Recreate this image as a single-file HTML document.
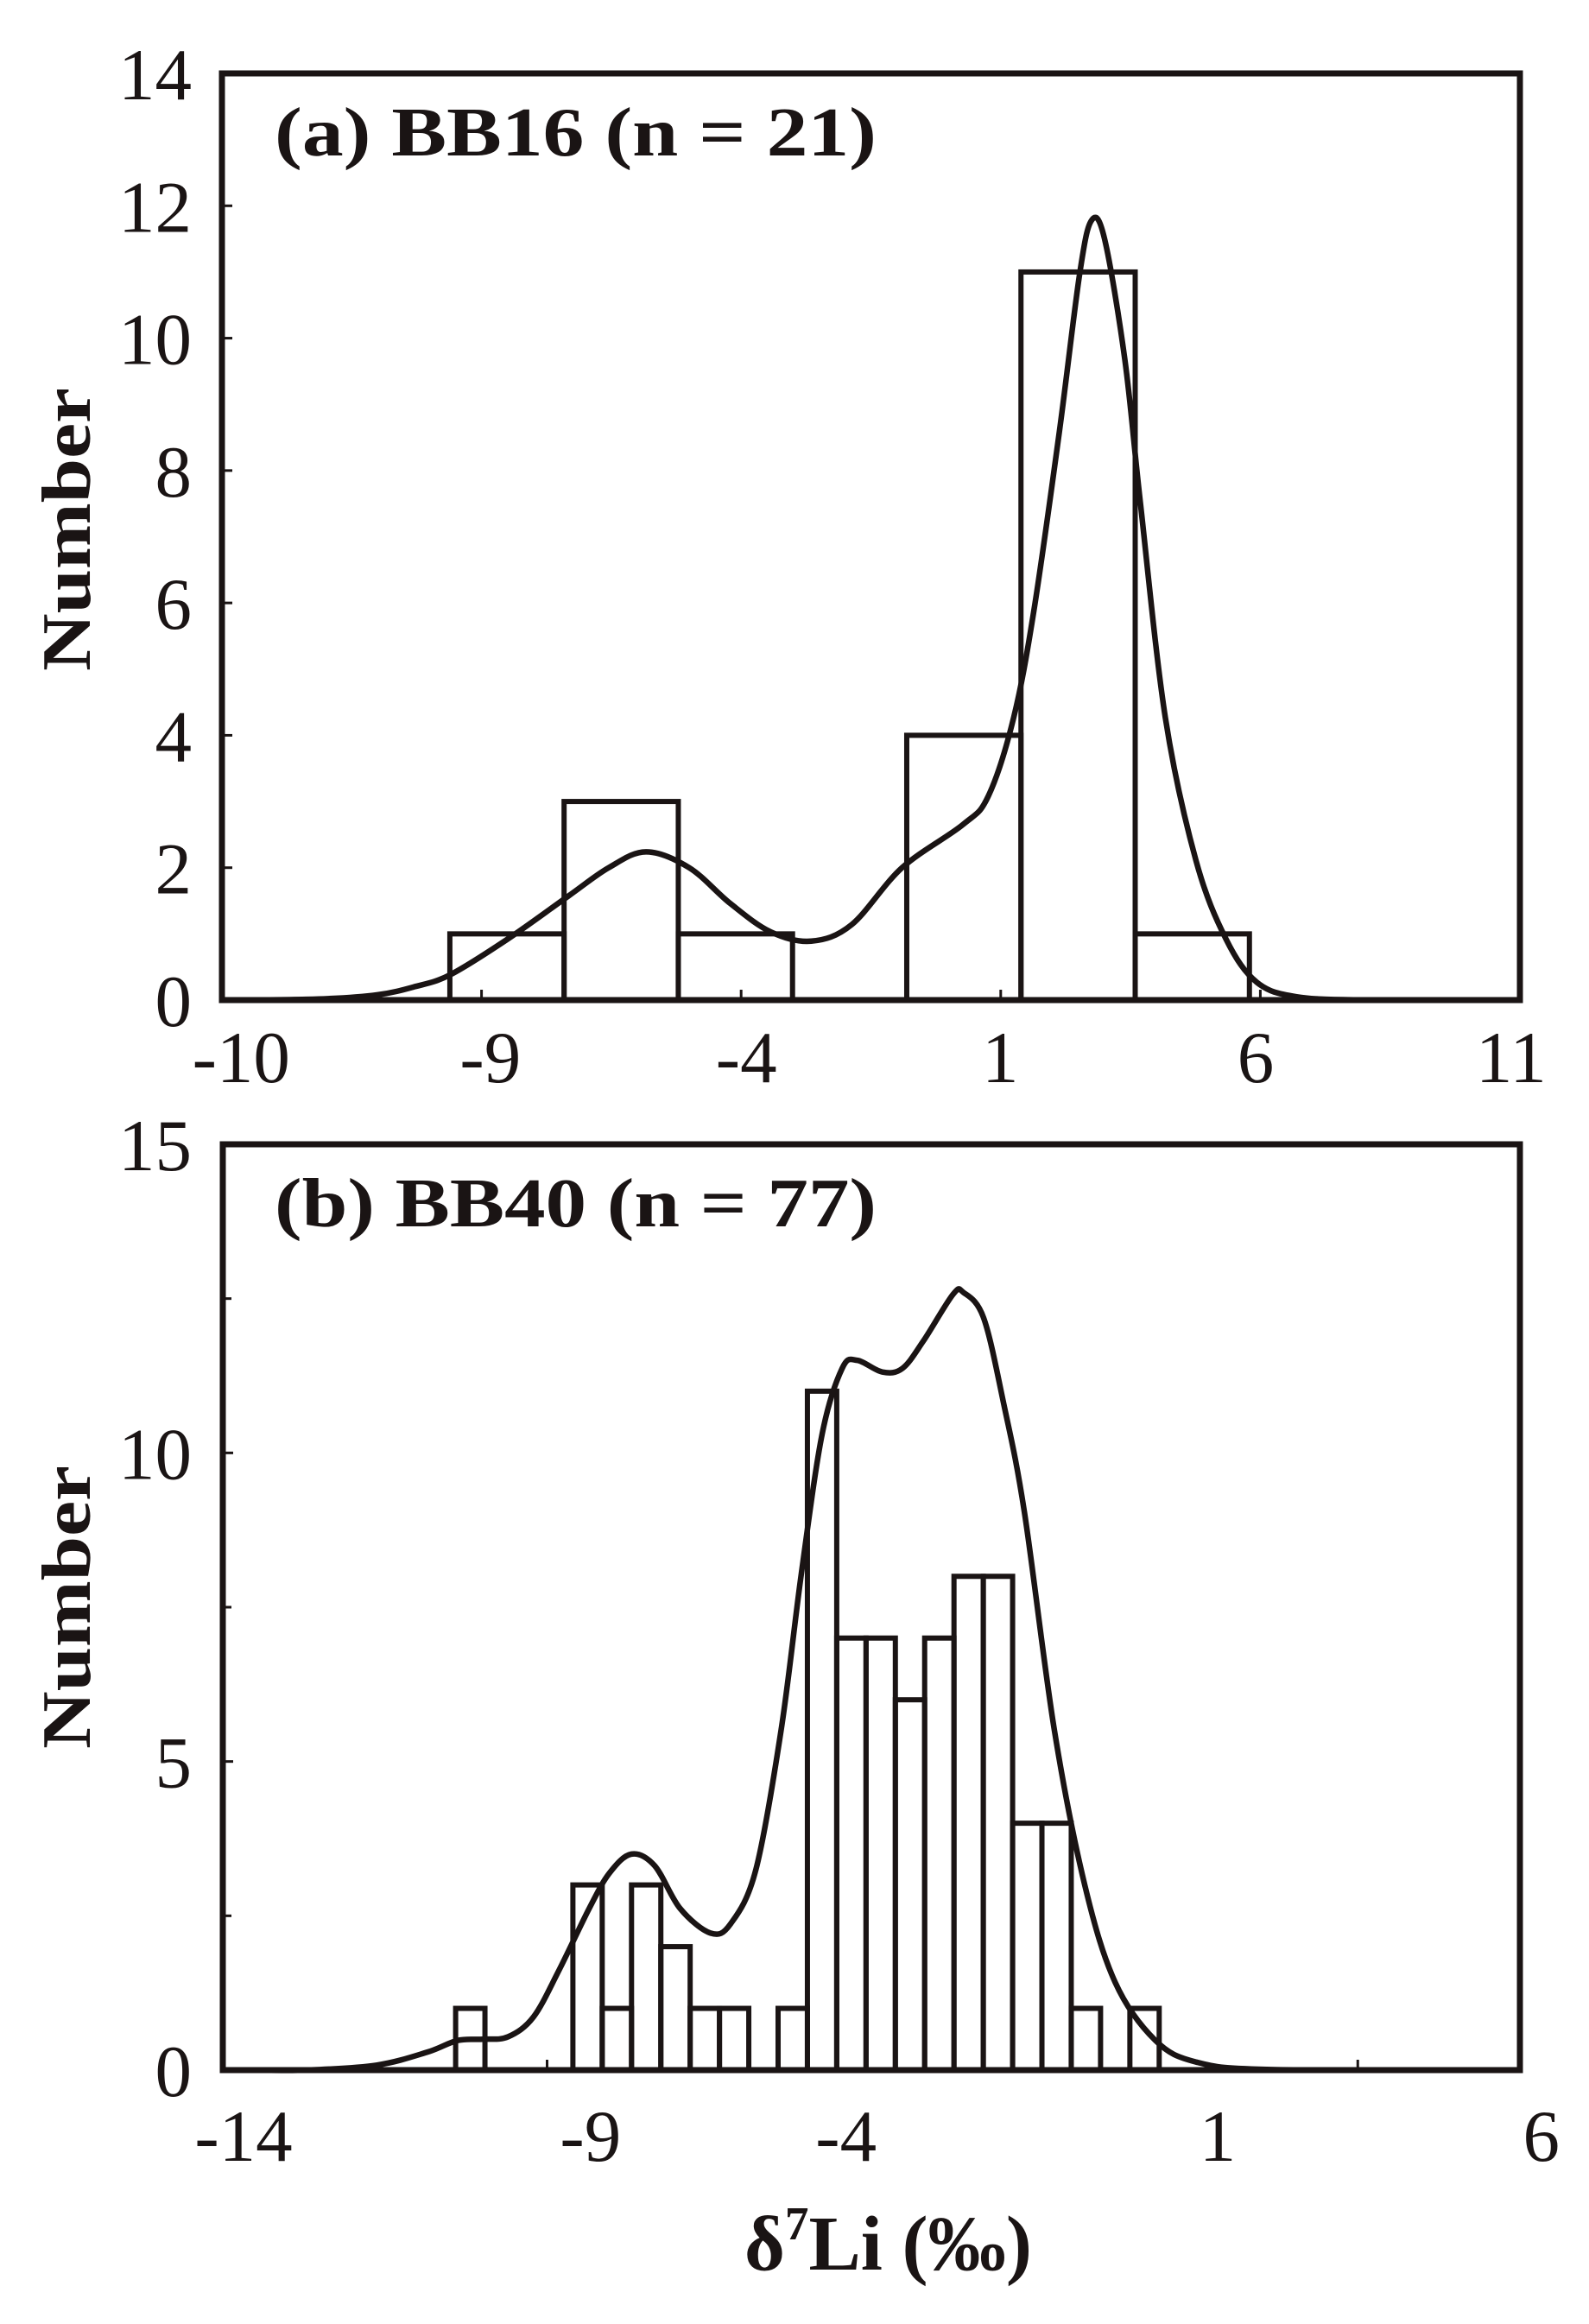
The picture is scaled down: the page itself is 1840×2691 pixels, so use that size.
<!DOCTYPE html>
<html><head><meta charset="utf-8"><style>
html,body{margin:0;padding:0;background:#fff;}
svg{display:block;}
text{font-family:"Liberation Serif","Times New Roman",serif;fill:#1a1414;}
</style></head><body>
<svg id="chart" width="1840" height="2691" viewBox="0 0 1840 2691" xmlns="http://www.w3.org/2000/svg">
<rect x="0" y="0" width="1840" height="2691" fill="#fff"/>
<g id="pa"></g>
<g id="pb"></g>
<text x="862" y="2628" font-size="90" font-weight="bold" textLength="333" lengthAdjust="spacingAndGlyphs">δ<tspan font-size="55" dy="-35">7</tspan><tspan dy="35">Li (‰)</tspan></text>
</svg>
<script>
// Panel A data
const aBinStart = -9.61;
const aBinWidth = 2.2;
const aCounts = [1, 3, 1, 0, 4, 11, 1];
const aCurveX = [-13.5,-12,-11,-10.3,-9.61,-8.5,-7.33,-6.55,-5.83,-5.0,-4.21,-3.43,-2.65,-1.87,-0.9,0.27,0.76,1.25,1.64,2.13,2.52,2.75,3.0,3.39,3.69,4.17,4.76,5.34,5.93,6.7,8.07,10.5];
const aCurveY = [0,0.02,0.08,0.2,0.38,0.92,1.57,2.0,2.24,2.0,1.46,1.03,0.89,1.14,2.0,2.65,3.08,4.27,5.89,8.59,10.97,11.78,11.5,9.68,7.51,4.27,2.11,0.92,0.27,0.05,0,0];
const aYTicks = [0,2,4,6,8,10,12,14];
const aXTickLabels = ["-10","-9","-4","1","6","11"];
const aXLabelAt = [-13.63,-8.83,-3.9,0.99,5.91,10.83];
const aXTickMarks = [-9,-4,1,6];
// Panel B data
const bBinStart = -10.41;
const bBinWidth = 0.452;
const bCounts = [1,0,0,0,3,1,3,2,1,1,0,1,11,7,7,6,7,8,8,4,4,1,0,1];
const bCurveX = [-13.5,-12.7,-11.63,-10.85,-10.38,-9.99,-9.6,-9.21,-8.82,-8.35,-8.04,-7.7,-7.34,-6.95,-6.48,-6.17,-5.78,-5.39,-5.08,-4.76,-4.45,-4.22,-3.83,-3.52,-3.2,-2.74,-2.58,-2.27,-1.96,-1.64,-1.18,-0.71,-0.24,0.38,1.01,2.1,5.5];
const bCurveY = [0,0,0.08,0.29,0.48,0.5,0.54,0.86,1.61,2.62,3.19,3.5,3.31,2.62,2.22,2.37,3.25,5.52,8.04,10.3,11.37,11.5,11.31,11.37,11.81,12.57,12.6,12.19,10.8,9.04,5.52,3.0,1.42,0.48,0.13,0.01,0];
const bYTicks = [0,5,10,15];
const bMinorYTicks = [2.5,7.5,12.5];
const bXTickLabels = ["-14","-9","-4","1","6"];
const bXLabelAt = [-13.68,-8.33,-4.39,1.34,6.33];
const bXTickMarks = [-9,3.5];

const NS = "http://www.w3.org/2000/svg";
function mk(tag, attrs, parent){
  const e = document.createElementNS(NS, tag);
  for (const k in attrs) e.setAttribute(k, attrs[k]);
  parent.appendChild(e);
  return e;
}
function smoothPath(pts){
  let d = "M" + pts[0][0] + "," + pts[0][1];
  for (let i=0;i<pts.length-1;i++){
    const p0 = pts[i-1]||pts[i], p1=pts[i], p2=pts[i+1], p3=pts[i+2]||p2;
    const c1x = p1[0]+(p2[0]-p0[0])/6, c1y = p1[1]+(p2[1]-p0[1])/6;
    const c2x = p2[0]-(p3[0]-p1[0])/6, c2y = p2[1]-(p3[1]-p1[1])/6;
    d += " C"+c1x+","+c1y+" "+c2x+","+c2y+" "+p2[0]+","+p2[1];
  }
  return d;
}
function panel(g, cfg){
  const X = v => cfg.L + (v - cfg.xmin) * (cfg.R - cfg.L) / (cfg.xmax - cfg.xmin);
  const Y = v => cfg.B - v * (cfg.B - cfg.T) / cfg.ymax;
  cfg.counts.forEach((c,i)=>{
    if (c <= 0) return;
    const x0 = X(cfg.binStart + i*cfg.binWidth), x1 = X(cfg.binStart + (i+1)*cfg.binWidth);
    const r = mk("rect", {x:x0, y:Y(c), width:x1-x0, height:Y(0)-Y(c), fill:"none", stroke:"#1a1414", "stroke-width":6}, g);
    
    
  });
  const pts = cfg.cx.map((v,i)=>[X(v), Y(cfg.cy[i])]);
  const p = mk("path", {d:smoothPath(pts), fill:"none", stroke:"#1a1414", "stroke-width":6.5, "stroke-linejoin":"round"}, g);
  
  
  const f = mk("rect", {x:cfg.L, y:cfg.T, width:cfg.R-cfg.L, height:cfg.B-cfg.T, fill:"none", stroke:"#1a1414", "stroke-width":7}, g);
  
  
  cfg.yTicks.forEach(v=>{
    const tk = mk("line", {x1:cfg.L, x2:cfg.L+12, y1:Y(v), y2:Y(v), stroke:"#1a1414", "stroke-width":3}, g);
    
    
    const t = mk("text", {x:222, y:Y(v)+30, "font-size":85, "text-anchor":"end"}, g);
    t.textContent = String(v);
    
    
  });
  (cfg.minorY||[]).forEach(v=>{
    const tk = mk("line", {x1:cfg.L, x2:cfg.L+10, y1:Y(v), y2:Y(v), stroke:"#1a1414", "stroke-width":3}, g);
    
    
  });
  cfg.xTickMarks.forEach(v=>{
    const tk = mk("line", {x1:X(v), x2:X(v), y1:cfg.B, y2:cfg.B-12, stroke:"#1a1414", "stroke-width":3}, g);
    
    
  });
  cfg.xLabels.forEach((s,i)=>{
    const t = mk("text", {x:X(cfg.xLabelAt[i]), y:cfg.xLabelY, "font-size":85, "text-anchor":"middle"}, g);
    t.textContent = s;
    
    
  });
  const ti = mk("text", {x:318, y:cfg.titleY, "font-size":80, "font-weight":"bold", textLength:697, lengthAdjust:"spacingAndGlyphs"}, g);
  ti.textContent = cfg.title;
  
  
  const yl = mk("text", {x:0, y:0, "font-size":80, "font-weight":"bold", "text-anchor":"middle", textLength:328, lengthAdjust:"spacingAndGlyphs", transform:"translate(104,"+cfg.ylabY+") rotate(-90)"}, g);
  yl.textContent = "Number";
  
  
}
panel(document.getElementById("pa"), {L:257,R:1760,T:85,B:1158,xmin:-14,xmax:11,ymax:14,
  binStart:aBinStart,binWidth:aBinWidth,counts:aCounts,cx:aCurveX,cy:aCurveY,yTicks:aYTicks,
  xLabels:aXTickLabels,xLabelAt:aXLabelAt,xTickMarks:aXTickMarks,xLabelY:1253,title:"(a) BB16 (n = 21)",titleY:180,ylabY:613});
panel(document.getElementById("pb"), {L:258,R:1760,T:1325,B:2397,xmin:-14,xmax:6,ymax:15,
  binStart:bBinStart,binWidth:bBinWidth,counts:bCounts,cx:bCurveX,cy:bCurveY,yTicks:bYTicks,minorY:bMinorYTicks,
  xLabels:bXTickLabels,xLabelAt:bXLabelAt,xTickMarks:bXTickMarks,xLabelY:2502,title:"(b) BB40 (n = 77)",titleY:1420,ylabY:1861});
</script>
</body></html>
